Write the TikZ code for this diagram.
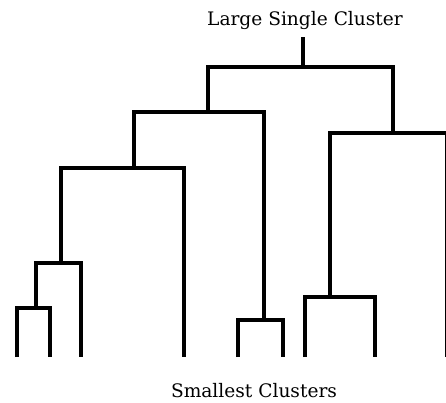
\documentclass[tikz,border=0pt]{standalone}
\usepackage{fontspec}
\setmainfont{DejaVu Serif}

\begin{document}
\begin{tikzpicture}[x=1pt,y=-1pt,
    branch/.style={black, line width=4pt, line join=miter},
    clustertext/.style={font=\fontsize{18.6}{22}\selectfont, inner sep=0pt, anchor=base}]
    \useasboundingbox (0,0) rectangle (446,403);

    % leaves
    \coordinate (l1) at (17,357);
    \coordinate (l2) at (50,357);
    \coordinate (l3) at (81,357);
    \coordinate (l4) at (184,357);
    \coordinate (l5) at (238,357);
    \coordinate (l6) at (283,357);
    \coordinate (l7) at (305,357);
    \coordinate (l8) at (375,357);
    \coordinate (l9) at (447,357);

    % merge points
    \coordinate (ja) at (36,308);
    \coordinate (jb) at (61,263);
    \coordinate (jc) at (134,168);
    \coordinate (jd) at (264,320);
    \coordinate (je) at (208,112);
    \coordinate (jf) at (330,297);
    \coordinate (jg) at (393,133);
    \coordinate (jh) at (303,67);
    \coordinate (root) at (303,37);

    \node[clustertext] (large) at (305,26) {Large Single Cluster};
    \node[clustertext] (small) at (254,397) {Smallest Clusters};

    \draw[branch] (l1) |- (ja) -| (l2);
    \draw[branch] (ja) |- (jb) -| (l3);
    \draw[branch] (jb) |- (jc) -| (l4);
    \draw[branch] (l5) |- (jd) -| (l6);
    \draw[branch] (jc) |- (je) -| (jd);
    \draw[branch] (l7) |- (jf) -| (l8);
    \draw[branch] (jf) |- (jg) -| (l9);
    \draw[branch] (je) |- (jh) -| (jg);
    \draw[branch] (jh) -- (root);
\end{tikzpicture}
\end{document}
